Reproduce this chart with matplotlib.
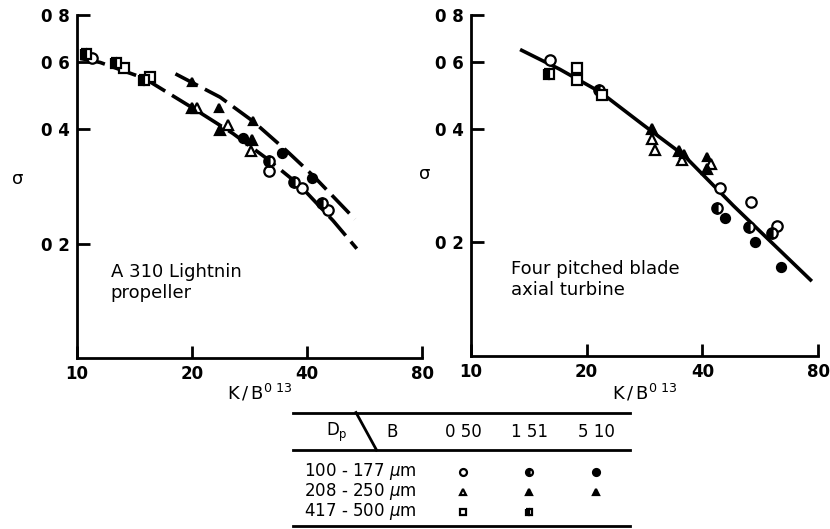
import matplotlib
matplotlib.use('Agg')
from matplotlib import pyplot as plt
from matplotlib.ticker import NullLocator

plt.rcParams['font.family'] = ['DejaVu Sans']

# ---- data (x = K/B^0.13, y = sigma) ----
# left panel: A 310 Lightnin propeller
L_open_circle_x = [10.95, 31.8, 38.8, 45.3]
L_open_circle_y = [0.615, 0.31, 0.281, 0.245]
L_half_circle_x = [31.8, 37.0, 43.7]
L_half_circle_y = [0.331, 0.29, 0.256]
L_full_circle_x = [27.2, 34.4, 41.2]
L_full_circle_y = [0.38, 0.346, 0.297]
L_open_tri_x = [20.6, 24.8, 28.5]
L_open_tri_y = [0.455, 0.41, 0.35]
L_full_tri_x = [20.0, 23.7, 28.7]
L_full_tri_y = [0.455, 0.398, 0.374]
L_full_tri5_x = [20.0, 23.6, 28.9]
L_full_tri5_y = [0.532, 0.455, 0.42]
L_open_sq_x = [13.3, 15.5]
L_open_sq_y = [0.58, 0.55]
L_half_sq_x = [10.56, 12.65, 15.0]
L_half_sq_y = [0.63, 0.597, 0.539]

L_fit_low_x = [10.2, 11.5, 15.0, 20.1, 25.6, 31.4, 38.4, 46.8, 54.0]
L_fit_low_y = [0.615, 0.60, 0.545, 0.455, 0.39, 0.335, 0.284, 0.23, 0.194]
L_fit_high_x = [18.1, 23.7, 28.9, 35.5, 41.5, 53.4]
L_fit_high_y = [0.56, 0.486, 0.42, 0.35, 0.302, 0.232]

# right panel: four pitched blade axial turbine
R_open_circle_x = [16.07, 44.6, 53.6, 62.6]
R_open_circle_y = [0.608, 0.278, 0.256, 0.221]
R_half_circle_x = [21.5, 43.7, 52.8, 60.9]
R_half_circle_y = [0.505, 0.246, 0.219, 0.212]
R_full_circle_x = [45.9, 54.9, 64.0]
R_full_circle_y = [0.232, 0.2, 0.172]
R_open_tri_x = [29.6, 30.2, 35.4, 42.2]
R_open_tri_y = [0.376, 0.352, 0.33, 0.323]
R_full_tri_x = [29.6, 34.8, 41.2]
R_full_tri_y = [0.40, 0.35, 0.312]
R_full_tri5_x = [35.8, 41.2]
R_full_tri5_y = [0.343, 0.336]
R_open_sq_x = [18.9, 18.9, 21.9]
R_open_sq_y = [0.58, 0.537, 0.49]
R_half_sq_x = [16.0]
R_half_sq_y = [0.558]

R_fit_x = [13.55, 17.0, 21.7, 28.0, 35.8, 48.2, 76.5]
R_fit_y = [0.645, 0.575, 0.50, 0.41, 0.34, 0.25, 0.159]

x_ticks = [10, 20, 40, 80]
x_ticklabels = ['10', '20', '40', '80']
y_ticks = [0.2, 0.4, 0.6, 0.8]
y_ticklabels = ['0 2', '0 4', '0 6', '0 8']

size_classes = ['100 - 177 $\\mu$m', '208 - 250 $\\mu$m', '417 - 500 $\\mu$m']
b_values = ['0 50', '1 51', '5 10']

W, H = 830, 529
fig = plt.figure(figsize=(W / 100, H / 100), dpi=100)

ms = 7.5
mew = 1.6


def mk(ax, x, y, marker, fill, size=ms):
    if fill == 'open':
        ax.plot(x, y, ls='none', marker=marker, ms=size, mfc='white',
                mec='black', mew=mew, zorder=3, clip_on=False)
    elif fill == 'full':
        ax.plot(x, y, ls='none', marker=marker, ms=size, mfc='black',
                mec='black', mew=mew, zorder=3, clip_on=False)
    else:
        ax.plot(x, y, ls='none', marker=marker, ms=size, mfc='black',
                mec='black', mfcalt='white', fillstyle='left', mew=mew,
                zorder=3, clip_on=False)


def style(ax):
    ax.set_xscale('log')
    ax.set_yscale('log')
    ax.set_xlim(10, 80)
    ax.set_ylim(0.1, 0.8)
    for s in ['top', 'right']:
        ax.spines[s].set_visible(False)
    for s in ['left', 'bottom']:
        ax.spines[s].set_linewidth(2)
    ax.set_xticks(x_ticks)
    ax.set_xticklabels(x_ticklabels)
    ax.set_yticks(y_ticks)
    ax.set_yticklabels(y_ticklabels)
    ax.xaxis.set_minor_locator(NullLocator())
    ax.yaxis.set_minor_locator(NullLocator())
    ax.tick_params(direction='in', length=9, width=2, labelsize=12, pad=5)
    for t in ax.get_xticklabels() + ax.get_yticklabels():
        t.set_fontweight('bold')


axL = fig.add_axes([77 / W, 1 - 358 / H, 345 / W, 343 / H])
axR = fig.add_axes([471 / W, 1 - 356 / H, 347 / W, 341 / H])
for ax in (axL, axR):
    style(ax)

axL.plot(L_fit_low_x, L_fit_low_y, color='black', lw=2.6,
         dashes=(7, 2.2), zorder=2)
axL.plot(L_fit_high_x, L_fit_high_y, color='black', lw=2.6,
         dashes=(7, 2.2), zorder=2)
mk(axL, L_open_circle_x, L_open_circle_y, 'o', 'open')
mk(axL, L_half_circle_x, L_half_circle_y, 'o', 'half')
mk(axL, L_full_circle_x, L_full_circle_y, 'o', 'full', 6.5)
mk(axL, L_open_tri_x, L_open_tri_y, '^', 'open')
mk(axL, L_full_tri_x, L_full_tri_y, '^', 'full')
mk(axL, L_full_tri5_x, L_full_tri5_y, '^', 'full', 6)
mk(axL, L_open_sq_x, L_open_sq_y, 's', 'open')
mk(axL, L_half_sq_x, L_half_sq_y, 's', 'half')

axR.plot(R_fit_x, R_fit_y, color='black', lw=2.6, zorder=2)
mk(axR, R_open_circle_x, R_open_circle_y, 'o', 'open')
mk(axR, R_half_circle_x, R_half_circle_y, 'o', 'half')
mk(axR, R_full_circle_x, R_full_circle_y, 'o', 'full', 6.5)
mk(axR, R_open_tri_x, R_open_tri_y, '^', 'open')
mk(axR, R_full_tri_x, R_full_tri_y, '^', 'full')
mk(axR, R_full_tri5_x, R_full_tri5_y, '^', 'full', 6)
mk(axR, R_open_sq_x, R_open_sq_y, 's', 'open')
mk(axR, R_half_sq_x, R_half_sq_y, 's', 'half')

axL.text(0.098, 0.22, 'A 310 Lightnin\npropeller', transform=axL.transAxes,
         fontsize=13, va='center', ha='left', linespacing=1.25)
axR.text(0.115, 0.225, 'Four pitched blade\naxial turbine',
         transform=axR.transAxes, fontsize=13, va='center', ha='left',
         linespacing=1.25)

for ax, lx, ly in ((axL, -0.171, 0.496), (axR, -0.133, 0.507)):
    ax.set_ylabel('\u03c3', rotation=0, fontsize=13)
    ax.yaxis.set_label_coords(lx, ly)

xlab = '$\\mathregular{K\\,/\\,B^{0\\ 13}}$'
axL.set_xlabel(xlab, fontsize=13)
axL.xaxis.set_label_coords(0.53, -0.072)
axR.set_xlabel(xlab, fontsize=13)
axR.xaxis.set_label_coords(0.50, -0.077)

# ---- legend table ----
lg = fig.add_axes([0, 0, 1, 1])
lg.set_xlim(0, W)
lg.set_ylim(H, 0)
lg.axis('off')
lg.plot([293, 630], [412.5, 412.5], color='black', lw=2)
lg.plot([293, 630], [450, 450], color='black', lw=2)
lg.plot([293, 630], [526, 526], color='black', lw=2)
lg.plot([356, 376.5], [412.5, 450], color='black', lw=2)
lg.text(337, 432, '$\\mathregular{D_p}$', fontsize=12, ha='center',
        va='center')
lg.text(392, 432, 'B', fontsize=12, ha='center', va='center')
col_x = [463, 529, 596]
for cx, b in zip(col_x, b_values):
    lg.text(cx, 432, b, fontsize=12, ha='center', va='center')
row_y = [472, 492, 512]
for ry, sc in zip(row_y, size_classes):
    lg.text(304, ry, sc, fontsize=12, ha='left', va='center')

leg_marks = [
    [('o', 'open'), ('o', 'half'), ('o', 'full')],
    [('^', 'open'), ('^', 'full'), ('^', 'full')],
    [('s', 'open'), ('s', 'half'), None],
]
for ry, row in zip(row_y, leg_marks):
    for cx, m in zip(col_x, row):
        if m is None:
            continue
        mk(lg, [cx], [ry], m[0], m[1], 5)

fig.savefig('out.png', dpi=100)
